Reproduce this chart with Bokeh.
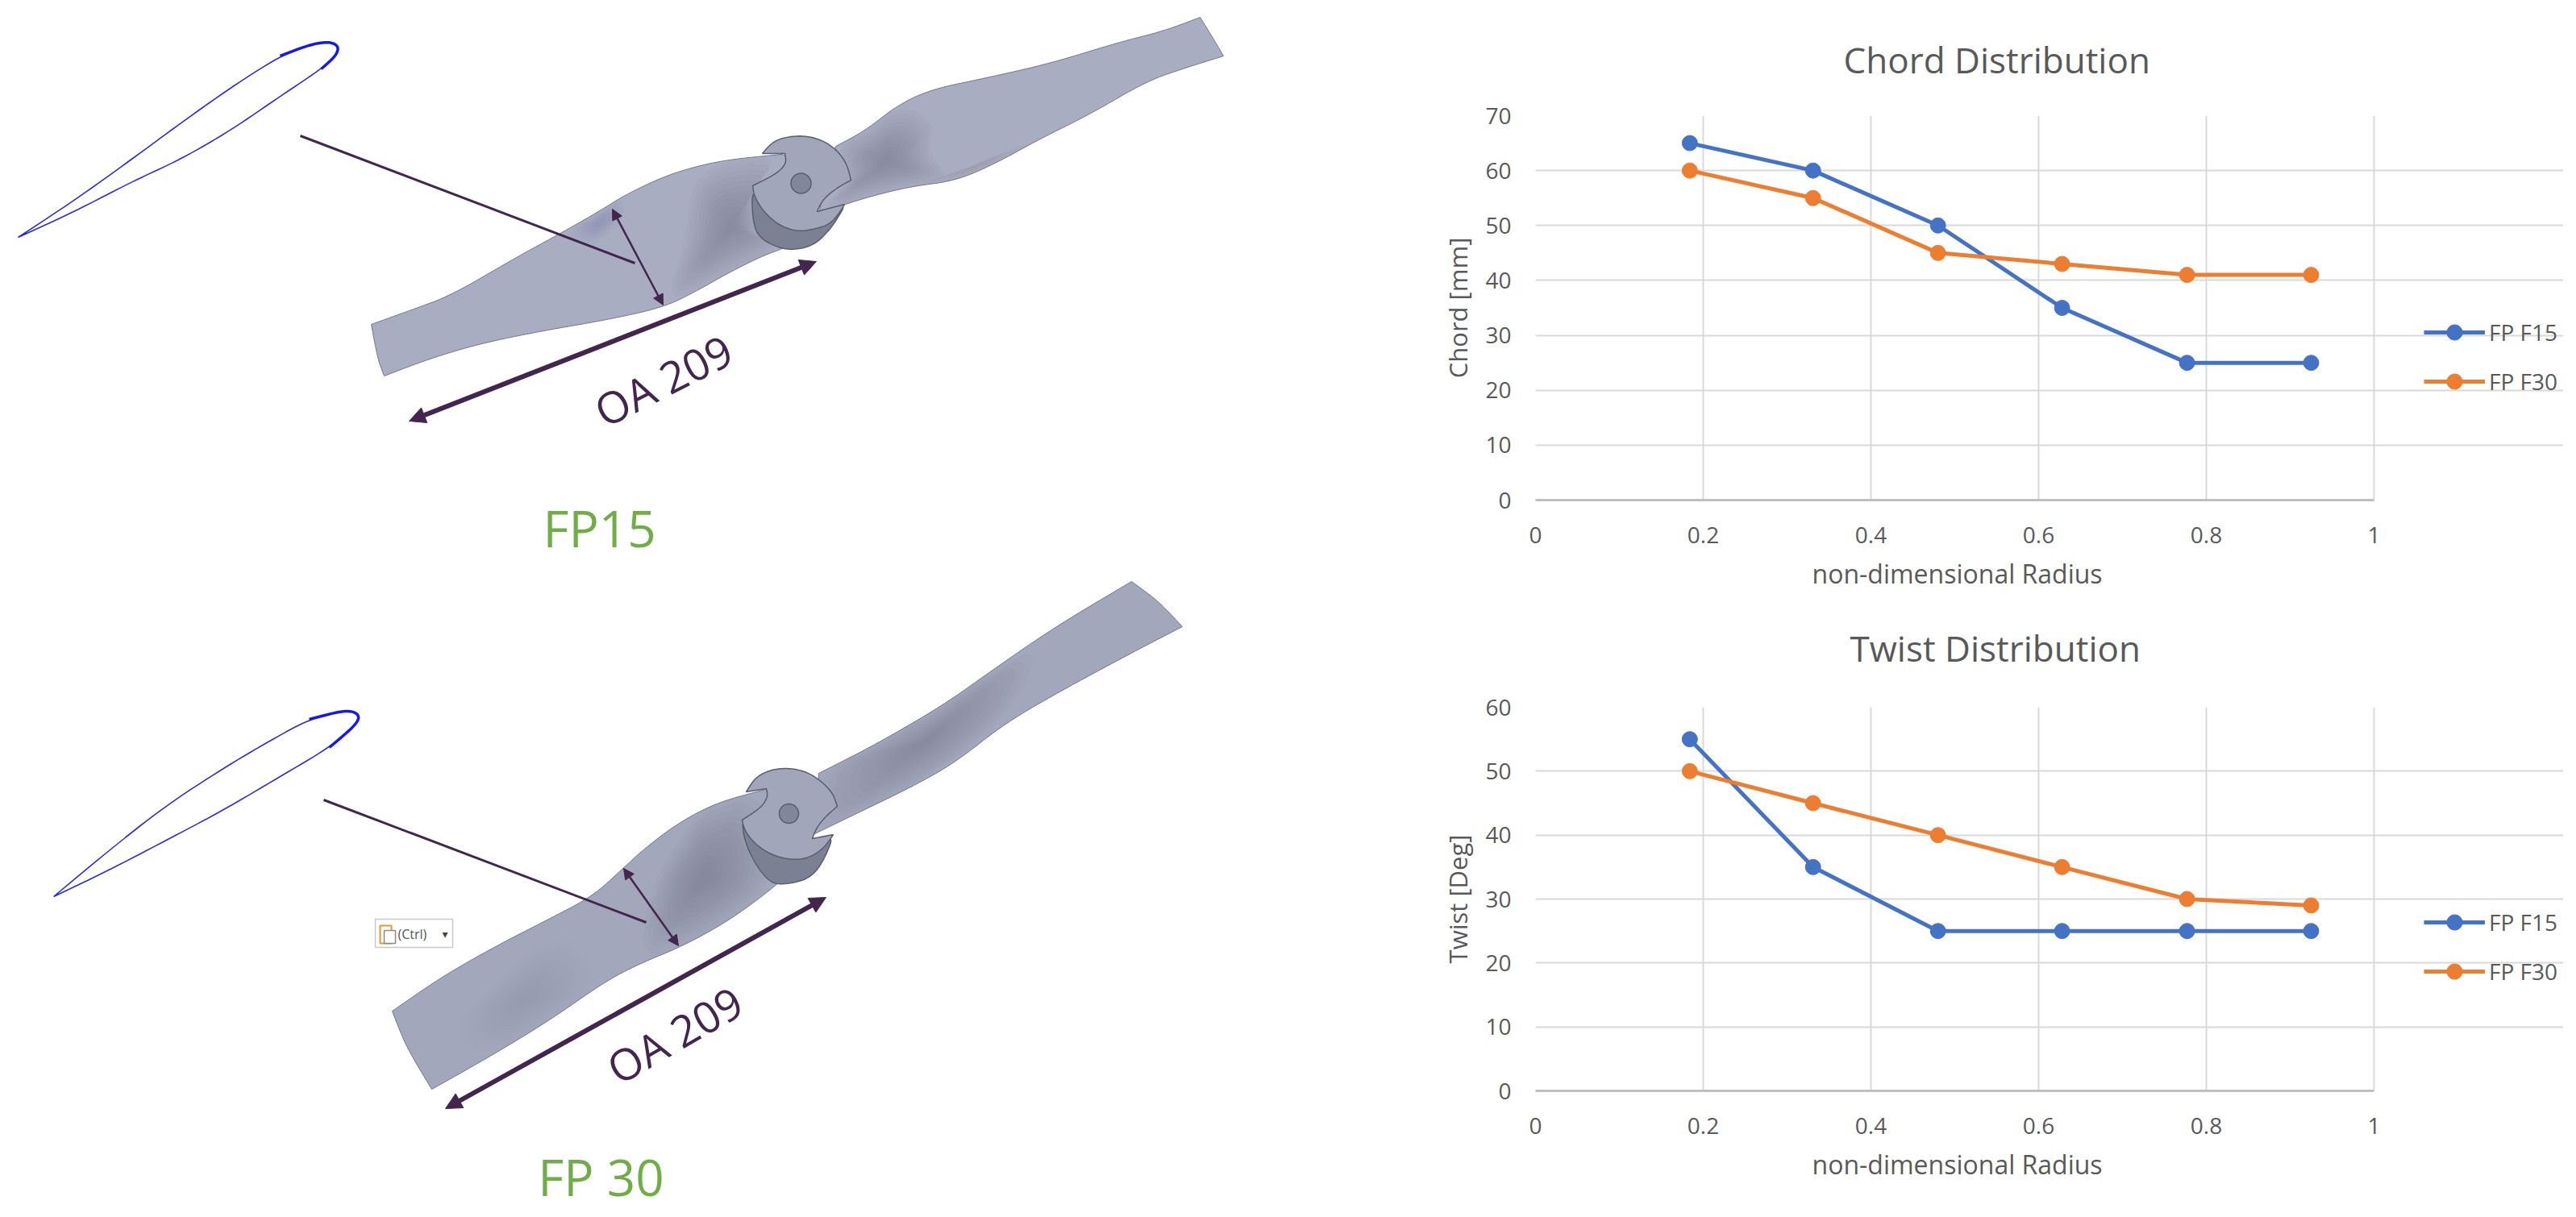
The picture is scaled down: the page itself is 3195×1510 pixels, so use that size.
from bokeh.plotting import figure
from bokeh.layouts import row, column
from bokeh.models import (Range1d, FixedTicker, Legend, LegendItem, Arrow, NormalHead, Title)
from bokeh.core.properties import value
from bokeh.embed import file_html
from bokeh.resources import INLINE

# ---------- chart data ----------
radius = [0.184, 0.331, 0.480, 0.628, 0.777, 0.925]
chord_f15 = [65, 60, 50, 35, 25, 25]
chord_f30 = [60, 55, 45, 43, 41, 41]
twist_f15 = [55, 35, 25, 25, 25, 25]
twist_f30 = [50, 45, 40, 35, 30, 29]
series_names = ["FP F15", "FP F30"]
x_ticks = [0, 0.2, 0.4, 0.6, 0.8, 1]
x_tick_labels = {0: "0", 0.2: "0.2", 0.4: "0.4", 0.6: "0.6", 0.8: "0.8", 1: "1"}
chord_ticks = [0, 10, 20, 30, 40, 50, 60, 70]
twist_ticks = [0, 10, 20, 30, 40, 50, 60]

# ---------- illustration outlines ----------
foil1_x = [22, 92, 163, 224, 286, 347, 383, 408, 420, 416, 398, 347, 286, 224, 163, 92]
foil1_y = [294, 248, 197, 152, 108, 69, 55, 51, 57, 69, 85, 119, 161, 197, 225, 262]
nose1_x = [347, 383, 408, 420, 416, 398]
nose1_y = [69, 55, 51, 57, 69, 85]
foil2_x = [66, 133, 204, 276, 337, 383, 429, 446, 441, 408, 347, 276, 204, 133]
foil2_y = [1112, 1056, 1000, 953, 917, 892, 880, 886, 899, 927, 963, 1005, 1043, 1080]
nose2_x = [383, 429, 446, 441, 408]
nose2_y = [892, 880, 886, 899, 927]

b1L_x = [985, 970, 896, 833, 777, 742, 700, 636, 559, 510, 460, 468, 476, 531, 594, 672, 749, 822, 861, 903, 945, 973, 985]
b1L_y = [200, 191, 198, 214, 240, 262, 286, 321, 366, 384, 402, 445, 466, 445, 426, 410, 397, 381, 362, 338, 317, 307, 300]
b1L_corners = [0, 1, 10, 12, 22]
b1R_x = [1036, 1072, 1114, 1156, 1219, 1303, 1387, 1443, 1488, 1503, 1517, 1472, 1422, 1352, 1289, 1233, 1184, 1128, 1072, 1015]
b1R_y = [181, 162, 129, 110, 97, 78, 52, 38, 21, 45, 69, 83, 100, 141, 172, 203, 224, 231, 245, 264]
b1R_corners = [0, 8, 10, 19]
b1L_dark1_x = [860, 970, 935, 940, 973, 903, 822, 850]
b1L_dark1_y = [205, 191, 228, 293, 307, 338, 381, 300]
b1L_dark3_x = [700, 742, 777, 770, 725]
b1L_dark3_y = [286, 262, 240, 280, 310]
b1R_dark1_x = [1036, 1072, 1114, 1160, 1150, 1180, 1128, 1072, 1015, 1051]
b1R_dark1_y = [181, 162, 129, 150, 190, 222, 231, 245, 264, 224]
b1R_dark3_x = [1128, 1184, 1233, 1289, 1240, 1180]
b1R_dark3_y = [231, 224, 203, 172, 190, 215]

hub1_face_x = [973, 975, 963, 933, 935, 947, 967, 990, 1013, 1030, 1043, 1047, 1013, 1020, 1037, 1055, 1050, 1037, 1017, 990, 960, 945]
hub1_face_y = [190, 202, 215, 230, 243, 263, 280, 287, 283, 277, 260, 253, 262, 247, 233, 223, 203, 185, 172, 167, 173, 190]
hub1_face_corners = [0, 3, 11, 12, 15, 21]
hub1_cyl_x = [932, 933, 940, 960, 980, 1007, 1027, 1043, 1047, 990, 947]
hub1_cyl_y = [232, 273, 293, 305, 310, 305, 287, 263, 253, 287, 263]
hole1 = (993, 227, 25)

b2L_x = [960, 949, 889, 840, 798, 770, 735, 686, 615, 545, 486, 503, 535, 601, 679, 749, 791, 847, 896, 931, 963, 970]
b2L_y = [985, 979, 995, 1021, 1053, 1079, 1111, 1137, 1173, 1213, 1254, 1298, 1351, 1314, 1267, 1218, 1196, 1173, 1146, 1122, 1097, 1090]
b2L_corners = [0, 1, 10, 12, 21]
b2R_x = [1015, 1086, 1170, 1226, 1310, 1403, 1436, 1466, 1408, 1324, 1247, 1184, 1128, 1072, 1008]
b2R_y = [959, 923, 874, 834, 776, 721, 745, 777, 807, 852, 896, 946, 977, 1004, 1035]
b2R_corners = [0, 5, 7, 14]
b2L_dark_x = [870, 949, 963, 896, 847, 790, 810, 850]
b2L_dark_y = [1000, 979, 1097, 1146, 1173, 1190, 1090, 1030]
b2R_dark_x = [1015, 1086, 1170, 1226, 1290, 1262, 1200, 1128, 1072, 1008]
b2R_dark_y = [959, 923, 874, 834, 800, 868, 930, 977, 1004, 1035]
b2L_dark2_x = [560, 620, 700, 749, 679, 601]
b2L_dark2_y = [1275, 1210, 1150, 1218, 1267, 1314]

hub2_face_x = [950, 952, 943, 920, 923, 937, 960, 987, 1007, 1023, 1033, 1007, 1012, 1023, 1038, 1032, 1010, 987, 960, 937, 925]
hub2_face_y = [978, 988, 1002, 1017, 1030, 1048, 1062, 1067, 1062, 1050, 1035, 1040, 1027, 1013, 1000, 982, 962, 953, 953, 963, 982]
hub2_face_corners = [0, 3, 10, 11, 14, 20]
hub2_cyl_x = [920, 923, 937, 955, 973, 1003, 1020, 1035, 1007, 960, 923]
hub2_cyl_y = [1018, 1043, 1073, 1095, 1097, 1090, 1070, 1033, 1062, 1062, 1030]
hole2 = (978, 1009, 24)

leader1_x, leader1_y = [372, 787], [168, 326]
leader2_x, leader2_y = [401, 801], [992, 1144]
chord_arrows = [(759, 259, 822, 378), (773, 1077, 841, 1173)]
length_arrows = [(507, 522, 1012, 324), (552, 1375, 1024, 1113)]

oa_x, oa_y, oa_angle = [822, 836], [471, 1283], [27, 30]
fp_x, fp_y, fp_labels = [743, 745], [654, 1459], ["FP15", "FP 30"]

BLADE = "#A9ADC2"
DARK = "#6F7388"
EDGE = "#5A5D6D"
SOFT = "#73768A"
ARROW = "#43264E"
FONT = "Open Sans"
GREY = "#595959"
LEFT_BORDER, FRAME_W, CHART_W = 162, 1040, 1437
FRAME_TOTAL = CHART_W - LEFT_BORDER


def chaikin(x, y, corners=(), closed=True, rounds=3):
    pts = list(zip(x, y))
    flags = [i in corners for i in range(len(pts))]
    for _ in range(rounds):
        out, of = [], []
        n = len(pts)
        for i in range(n if closed else n - 1):
            j = (i + 1) % n
            (x0, y0), (x1, y1) = pts[i], pts[j]
            out.append((x0, y0) if flags[i] else (0.75 * x0 + 0.25 * x1, 0.75 * y0 + 0.25 * y1))
            of.append(flags[i])
            out.append((x1, y1) if flags[j] else (0.25 * x0 + 0.75 * x1, 0.25 * y0 + 0.75 * y1))
            of.append(flags[j])
        pts, flags = out, of
    return [p[0] for p in pts], [p[1] for p in pts]


ill = figure(width=1742, height=1502, x_range=Range1d(0, 1742), y_range=Range1d(1502, 0),
             x_axis_type=None, y_axis_type=None, toolbar_location=None, output_backend="svg",
             min_border=0, outline_line_color=None)
ill.grid.visible = False


def poly(x, y, color=BLADE, alpha=1.0, edge=None, lw=1.0, corners=()):
    sx, sy = chaikin(x, y, corners)
    ill.patch(sx, sy, fill_color=color, fill_alpha=alpha, line_color=edge, line_width=lw)


def shade(x, y, alpha, layers=12, inner=0.12):
    cx, cy = sum(x) / len(x), sum(y) / len(y)
    sx, sy = chaikin(x, y)
    for k in range(layers):
        f = 1 - (1 - inner) * k / (layers - 1)
        ill.patch([cx + (a - cx) * f for a in sx], [cy + (b - cy) * f for b in sy],
                  fill_color=DARK, fill_alpha=alpha / layers, line_color=None)


for x, y in [(foil1_x, foil1_y), (foil2_x, foil2_y)]:
    sx, sy = chaikin(x, y, corners=[0])
    ill.line(sx + sx[:1], sy + sy[:1], line_color="#2A2AE0", line_width=1.6)
for x, y in [(nose1_x, nose1_y), (nose2_x, nose2_y)]:
    sx, sy = chaikin(x, y, corners=[0, len(x) - 1], closed=False)
    ill.line(sx, sy, line_color="#1818E8", line_width=3.5)

# propeller FP15
poly(b1R_x, b1R_y, edge=SOFT, corners=b1R_corners)
shade(b1R_dark1_x, b1R_dark1_y, .55)
shade(b1R_dark3_x, b1R_dark3_y, .3)
poly(b1L_x, b1L_y, edge=SOFT, corners=b1L_corners)
shade(b1L_dark1_x, b1L_dark1_y, .55)
shade(b1L_dark3_x, b1L_dark3_y, .25)
poly(hub1_cyl_x, hub1_cyl_y, "#7C8093", edge=EDGE, lw=1.5)
poly(hub1_face_x, hub1_face_y, "#A2A6BA", edge=EDGE, lw=1.5, corners=hub1_face_corners)
ill.ellipse([hole1[0]], [hole1[1]], width=hole1[2], height=hole1[2], fill_color="#82869A", line_color=EDGE, line_width=1.5)

# propeller FP 30
poly(b2R_x, b2R_y, "#A3A7BC", edge=SOFT, corners=b2R_corners)
shade(b2R_dark_x, b2R_dark_y, .6)
poly(b2L_x, b2L_y, "#A3A7BC", edge=SOFT, corners=b2L_corners)
shade(b2L_dark_x, b2L_dark_y, .55)
shade(b2L_dark2_x, b2L_dark2_y, .15)
poly(hub2_cyl_x, hub2_cyl_y, "#7C8093", edge=EDGE, lw=1.5)
poly(hub2_face_x, hub2_face_y, "#A2A6BA", edge=EDGE, lw=1.5, corners=hub2_face_corners)
ill.ellipse([hole2[0]], [hole2[1]], width=hole2[2], height=hole2[2], fill_color="#82869A", line_color=EDGE, line_width=1.5)

# leader lines and dimension arrows
ill.line(leader1_x, leader1_y, line_color=ARROW, line_width=3)
ill.line(leader2_x, leader2_y, line_color=ARROW, line_width=3)
for a in chord_arrows:
    ill.add_layout(Arrow(x_start=a[0], y_start=a[1], x_end=a[2], y_end=a[3], line_color=ARROW, line_width=2.5,
                         start=NormalHead(size=13, fill_color=ARROW, line_color=ARROW),
                         end=NormalHead(size=13, fill_color=ARROW, line_color=ARROW)))
for a in length_arrows:
    ill.add_layout(Arrow(x_start=a[0], y_start=a[1], x_end=a[2], y_end=a[3], line_color=ARROW, line_width=6,
                         start=NormalHead(size=20, fill_color=ARROW, line_color=ARROW),
                         end=NormalHead(size=20, fill_color=ARROW, line_color=ARROW)))

# texts
for xx, yy, ang in zip(oa_x, oa_y, oa_angle):
    ill.text([xx], [yy], text=["OA 209"], angle=ang, angle_units="deg", text_font=value(FONT), text_font_size="54px",
             text_color=ARROW, text_align="center", text_baseline="middle")
ill.text(fp_x, fp_y, text=fp_labels, text_font=value(FONT), text_font_size="62px", text_color="#70AD47",
         text_align="center", text_baseline="middle")

# paste-options tag
ill.quad(left=[465], right=[561], top=[1140], bottom=[1175], fill_color="#FFFFFF", line_color="#C8C8C8", line_width=1.5)
ill.quad(left=[471], right=[485], top=[1148], bottom=[1170], fill_color="#FFFFFF", line_color="#E8972F", line_width=2)
ill.quad(left=[476], right=[490], top=[1154], bottom=[1170], fill_color="#FFFFFF", line_color="#8A8A8A", line_width=1.5)
ill.text([493], [1158], text=["(Ctrl)"], text_font=value(FONT), text_font_size="16px", text_color="#555555",
         text_baseline="middle")
ill.text([548], [1158], text=["\u25BE"], text_font=value("DejaVu Sans"), text_font_size="14px", text_color="#444444",
         text_baseline="middle")


def chart(title, ylabel, y15, y30, ymax, yticks, h, top, bottom, title_offset, standoff, legend_y, margin_top=0):
    # The x range runs past 1 so that the legend sits inside the drawing area, right of the ruled plot.
    p = figure(width=CHART_W, height=h, x_range=Range1d(0, FRAME_TOTAL / FRAME_W), y_range=Range1d(0, ymax),
               toolbar_location=None, output_backend="svg", min_border_left=LEFT_BORDER, min_border_right=0,
               min_border_top=top, min_border_bottom=bottom, outline_line_color=None,
               margin=(margin_top, 0, 0, 0), border_fill_alpha=0)
    p.title.text = title
    p.title.align = "left"
    p.title.offset = title_offset
    p.title.text_font = FONT
    p.title.text_font_style = "normal"
    p.title.text_font_size = "44px"
    p.title.text_color = GREY
    p.title.standoff = standoff
    p.xaxis.ticker = FixedTicker(ticks=x_ticks)
    p.xaxis.major_label_overrides = x_tick_labels
    p.xaxis.bounds = (0, 1)
    p.ygrid.bounds = (0, 1)
    p.yaxis.ticker = FixedTicker(ticks=yticks)
    p.yaxis.axis_label = ylabel
    for ax in (p.xaxis[0], p.yaxis[0]):
        ax.major_tick_line_color = None
        ax.minor_tick_line_color = None
        ax.major_label_text_font = FONT
        ax.major_label_text_font_size = "28px"
        ax.major_label_text_color = GREY
        ax.axis_label_text_font = FONT
        ax.axis_label_text_font_style = "normal"
        ax.axis_label_text_font_size = "31px"
        ax.axis_label_text_color = GREY
    p.xaxis[0].major_label_standoff = 27
    p.yaxis[0].major_label_standoff = 24
    p.yaxis[0].axis_label_standoff = 10
    p.yaxis[0].axis_line_color = None
    p.xaxis[0].axis_line_color = "#BFBFBF"
    p.xaxis[0].axis_line_width = 3
    # x-axis caption: centred under the ruled plot, not under the wider drawing area
    p.add_layout(Title(text="non-dimensional Radius", align="left", offset=343, standoff=22, text_font=FONT,
                       text_font_style="normal", text_font_size="32px", text_color=GREY), "below")
    p.grid.grid_line_color = "#D9D9D9"
    p.grid.grid_line_width = 2
    items = []
    for name, ys, col in zip(series_names, (y15, y30), ("#4472C4", "#ED7D31")):
        l = p.line(radius, ys, line_color=col, line_width=5)
        s = p.scatter(radius, ys, size=19, fill_color=col, line_color=col)
        items.append(LegendItem(label=name, renderers=[l, s]))
    leg = Legend(items=items, location=(1102, legend_y), orientation="vertical", border_line_color=None,
                 background_fill_alpha=0, glyph_width=76, glyph_height=48, label_height=38, spacing=13,
                 label_text_font=FONT, label_text_font_size="28px", label_text_color=GREY, label_standoff=5,
                 padding=0, margin=0)
    p.add_layout(leg, "center")
    return p


c1 = chart("Chord Distribution", "Chord [mm]", chord_f15, chord_f30, 70, chord_ticks, 743, 143, 123, 382, 80, 123)
c2 = chart("Twist Distribution", "Twist [Deg]", twist_f15, twist_f30, 60, twist_ticks, 749, 150, 123, 390, 88, 124,
           margin_top=-16)

page = row(ill, column(c1, c2, spacing=0), spacing=0)
open("out.html", "w").write(file_html(page, INLINE))
